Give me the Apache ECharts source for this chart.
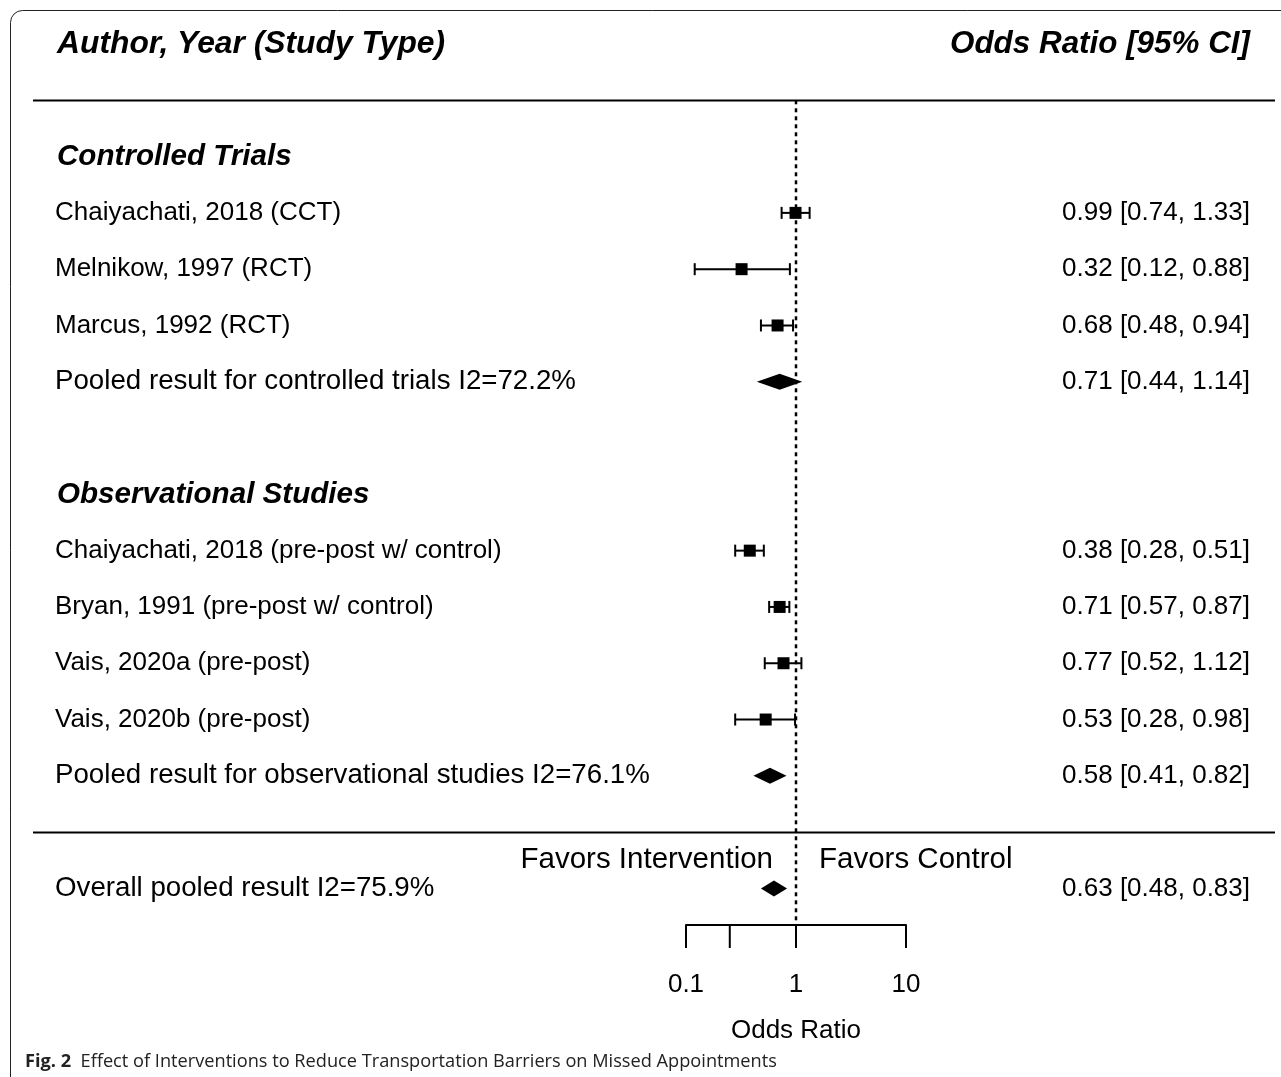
<!DOCTYPE html>
<html><head><meta charset="utf-8">
<script src="https://cdn.jsdelivr.net/npm/echarts@6/dist/echarts.min.js"></script>
<style>html,body{margin:0;padding:0;background:#fff}#c{width:1281px;height:1077px}</style>
</head><body><div id="c"></div>
<script>
// ---- data ----
const studyLabels = ['Chaiyachati, 2018 (CCT)','Melnikow, 1997 (RCT)','Marcus, 1992 (RCT)','Chaiyachati, 2018 (pre-post w/ control)','Bryan, 1991 (pre-post w/ control)','Vais, 2020a (pre-post)','Vais, 2020b (pre-post)'];
const studyOR = [0.99,0.32,0.68,0.38,0.71,0.77,0.53];
const studyLower = [0.74,0.12,0.48,0.28,0.57,0.52,0.28];
const studyUpper = [1.33,0.88,0.94,0.51,0.87,1.12,0.98];
const studyRows = [3,4,5,9,10,11,12];
const pooledLabels = ['Pooled result for controlled trials I2=72.2%','Pooled result for observational studies I2=76.1%','Overall pooled result I2=75.9%'];
const pooledOR = [0.71,0.58,0.63];
const pooledLower = [0.44,0.41,0.48];
const pooledUpper = [1.14,0.82,0.83];
const pooledRows = [6,13,15];
const sectionLabels = ['Controlled Trials','Observational Studies'];
const sectionRows = [2,8];
const headerLeft = 'Author, Year (Study Type)';
const headerRight = 'Odds Ratio [95% CI]';
const favorsLabels = ['Favors Intervention','Favors Control'];
const extraTicks = [0.25];
const refValue = 1;
const ruleRows = [1,14];
const headerRow = 0;
const favorsRow = 14.5;
const axisRow = 15.65;

const FONT = '"Liberation Sans", Arial, sans-serif';
const fmt = v => v.toFixed(2);
const ciText = (o,l,h) => fmt(o) + ' [' + fmt(l) + ', ' + fmt(h) + ']';

// text items
const texts = [];
texts.push({t: headerLeft, row: headerRow, k: 'head', side: 'L'});
texts.push({t: headerRight, row: headerRow, k: 'headR', side: 'R'});
sectionLabels.forEach((s,i)=>texts.push({t:s,row:sectionRows[i],k:'sec',side:'L'}));
studyLabels.forEach((s,i)=>{
  texts.push({t:s,row:studyRows[i],k:'body',side:'L'});
  texts.push({t:ciText(studyOR[i],studyLower[i],studyUpper[i]),row:studyRows[i],k:'body',side:'R'});
});
pooledLabels.forEach((s,i)=>{
  texts.push({t:s,row:pooledRows[i],k:'pool',side:'L'});
  texts.push({t:ciText(pooledOR[i],pooledLower[i],pooledUpper[i]),row:pooledRows[i],k:'body',side:'R'});
});
texts.push({t:favorsLabels[0],row:favorsRow,k:'fav',side:'FL'});
texts.push({t:favorsLabels[1],row:favorsRow,k:'fav',side:'FR'});

const SIZES = {head: 31.8, headR: 31.4, sec: 29.6, body: 26, pool: 27.7, fav: 29.5};

const chart = echarts.init(document.getElementById('c'));
const blk = '#000';
chart.setOption({
  animation: false,
  backgroundColor: '#fff',
  grid: {left: 686, right: 375, top: 44, bottom: 152},
  xAxis: {
    type: 'log', logBase: 10, min: 0.1, max: 10, interval: 1,
    position: 'bottom',
    axisLine: {show: true, onZero: false, lineStyle: {color: blk, width: 2}},
    axisTick: {show: true, length: 23, lineStyle: {color: blk, width: 2}},
    axisLabel: {color: blk, fontSize: 26, fontFamily: FONT, margin: 60, verticalAlign: 'middle',
      formatter: v => String(v)},
    splitLine: {show: false},
    name: 'Odds Ratio', nameLocation: 'middle', nameGap: 106,
    nameTextStyle: {color: blk, fontSize: 26, fontFamily: FONT, verticalAlign: 'middle'}
  },
  yAxis: {type: 'value', min: 0, max: axisRow, inverse: true, show: false},
  graphic: [
    {type: 'rect', shape: {x: 10.5, y: 10.5, width: 1400, height: 1200, r: 12},
     style: {fill: 'none', stroke: '#222', lineWidth: 1}, z: -1},
    {type: 'text', x: 25, y: 1062,
     style: {text: '{b|Fig. 2}  Effect of Interventions to Reduce Transportation Barriers on Missed Appointments',
       fill: '#222', fontSize: 18.2, fontFamily: '"Open Sans", sans-serif', verticalAlign: 'middle',
       rich: {b: {fontWeight: 'bold', fontSize: 18.2, fontFamily: '"Open Sans", sans-serif', fill: '#222'}}}}
  ],
  series: [
    { // rules and reference line
      type: 'custom', silent: true, clip: false,
      data: [[refValue, 0]],
      renderItem: function(params, api){
        const children = ruleRows.map(r=>{
          const y = Math.round(api.coord([refValue, r])[1]) + 0.5;
          return {type:'line', shape:{x1:33,y1:y,x2:1275,y2:y}, style:{stroke:blk,lineWidth:2}};
        });
        const x = api.coord([refValue, 0])[0];
        const y1 = api.coord([refValue, ruleRows[0]])[1];
        const y2 = api.coord([refValue, axisRow])[1];
        children.push({type:'line', shape:{x1:x,y1:y1,x2:x,y2:y2}, style:{stroke:blk,lineWidth:2.5,lineDash:[4,4]}});
        extraTicks.forEach(v=>{
          const xt = api.coord([v, axisRow])[0];
          children.push({type:'line', shape:{x1:xt,y1:y2,x2:xt,y2:y2+23}, style:{stroke:blk,lineWidth:2}});
        });
        return {type:'group', children};
      }
    },
    { // study estimates
      type: 'custom', clip: false,
      data: studyOR.map((v,i)=>[v, studyLower[i], studyUpper[i], studyRows[i]]),
      encode: {x: [0,1,2], y: 3},
      renderItem: function(params, api){
        const r = api.value(3);
        const y = api.coord([1, r])[1];
        const xm = api.coord([api.value(0), r])[0];
        const xl = api.coord([api.value(1), r])[0];
        const xh = api.coord([api.value(2), r])[0];
        const st = {stroke: blk, lineWidth: 2};
        return {type:'group', children:[
          {type:'line', shape:{x1:xl,y1:y,x2:xh,y2:y}, style:st},
          {type:'line', shape:{x1:xl,y1:y-6,x2:xl,y2:y+6}, style:st},
          {type:'line', shape:{x1:xh,y1:y-6,x2:xh,y2:y+6}, style:st},
          {type:'rect', shape:{x:xm-6,y:y-6,width:12,height:12}, style:{fill:blk}}
        ]};
      }
    },
    { // pooled diamonds
      type: 'custom', clip: false,
      data: pooledOR.map((v,i)=>[v, pooledLower[i], pooledUpper[i], pooledRows[i]]),
      encode: {x: [0,1,2], y: 3},
      renderItem: function(params, api){
        const r = api.value(3);
        const y = api.coord([1, r])[1];
        const xm = api.coord([api.value(0), r])[0];
        const xl = api.coord([api.value(1), r])[0];
        const xh = api.coord([api.value(2), r])[0];
        return {type:'polygon', shape:{points:[[xl,y],[xm,y-8],[xh,y],[xm,y+8]]}, style:{fill:blk}};
      }
    },
    { // texts
      type: 'custom', clip: false, silent: true,
      data: texts.map(t=>[refValue, t.row]),
      renderItem: function(params, api){
        const t = texts[params.dataIndex];
        const p = api.coord([refValue, t.row]);
        let x, align;
        if (t.side === 'L') { x = (t.k === 'head' || t.k === 'sec') ? 57 : 55; align = 'left'; }
        else if (t.side === 'R') { x = 1250; align = 'right'; }
        else if (t.side === 'FL') { x = p[0] - 23; align = 'right'; }
        else { x = p[0] + 23; align = 'left'; }
        const bold = (t.k === 'head' || t.k === 'headR' || t.k === 'sec');
        const size = SIZES[t.k];
        return {type:'text', x: x, y: p[1], style:{
          text: t.t, fill: blk, fontFamily: FONT, fontSize: size,
          fontWeight: bold ? 'bold' : 'normal', fontStyle: bold ? 'italic' : 'normal',
          align: align, verticalAlign: 'middle', textAlign: align, textVerticalAlign: 'middle'}};
      }
    }
  ]
});
</script>
</body></html>
